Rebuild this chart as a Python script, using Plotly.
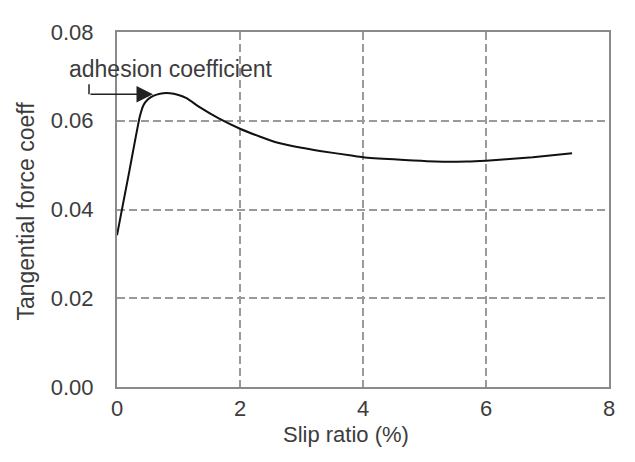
import plotly.graph_objects as go

# slip ratio (%) vs tangential force coefficient
slip = [0.0, 0.065, 0.2, 0.37, 0.43, 0.5, 0.59, 0.7, 0.86, 1.0, 1.13, 1.35, 1.67,
        2.0, 2.33, 2.6, 3.0, 3.3, 3.84, 4.0, 4.5, 5.04, 5.69, 6.0, 6.76, 7.4]
coeff = [0.0342, 0.0389, 0.0486, 0.0609, 0.0635, 0.0648, 0.0656, 0.0661, 0.0662,
         0.0658, 0.0651, 0.0630, 0.0604, 0.0582, 0.0564, 0.0551, 0.0539, 0.0532,
         0.0521, 0.0518, 0.0513, 0.0509, 0.0508, 0.0510, 0.0518, 0.0527]

x_ticks = [0, 2, 4, 6, 8]
y_ticks = [0.00, 0.02, 0.04, 0.06, 0.08]

font = "Liberation Sans, Arial, sans-serif"
txt = "#3c3c3c"

fig = go.Figure()
fig.add_trace(go.Scatter(x=slip, y=coeff, mode="lines",
                         line=dict(color="#111111", width=2, shape="spline", smoothing=0.5),
                         showlegend=False, hoverinfo="skip"))

axis_common = dict(showline=True, linecolor="#8a8a8a", linewidth=2, mirror=True,
                   showgrid=True, gridcolor="#9a9a9a", gridwidth=1.5, griddash="8px,4px",
                   zeroline=False, ticks="", tickfont=dict(family=font, size=22, color=txt))

fig.update_xaxes(range=[0, 8], tickvals=x_ticks, ticktext=[str(v) for v in x_ticks],
                 ticklabelstandoff=1, **axis_common)
fig.update_yaxes(range=[0, 0.08], tickvals=y_ticks, ticktext=["%.2f" % v for v in y_ticks],
                 ticklabelstandoff=17, **axis_common)

# page body has an 8px margin, so the figure is 8px smaller and shifted
fig.update_layout(
    width=627, height=454,
    margin=dict(l=109, r=26, t=19, b=75),
    plot_bgcolor="white", paper_bgcolor="white",
    font=dict(family=font, color=txt),
)

# axis titles
fig.add_annotation(text="Slip ratio (%)", xref="paper", yref="paper", x=0.465, y=-0.133,
                   showarrow=False, font=dict(size=22, color=txt), xanchor="center", yanchor="middle")
fig.add_annotation(text="Tangential force coeff", xref="paper", yref="paper", x=-0.185, y=0.497,
                   textangle=-90, showarrow=False, font=dict(size=23, color=txt),
                   xanchor="center", yanchor="middle")

# label + elbow arrow to the peak
fig.add_annotation(text="adhesion coefficient", x=0.87, y=0.0716, showarrow=False,
                   font=dict(size=23, color=txt), xanchor="center", yanchor="middle")
fig.add_annotation(text="", x=0.585, y=0.066, ax=-64, ay=0, showarrow=True,
                   arrowhead=2, arrowsize=2.2, arrowwidth=1.5, arrowcolor="#222222")
fig.add_shape(type="line", xref="paper", yref="paper", x0=-0.0569, x1=-0.0569,
              y0=0.853, y1=0.825, line=dict(color="#222222", width=1.5))

fig.write_html("out.html")
